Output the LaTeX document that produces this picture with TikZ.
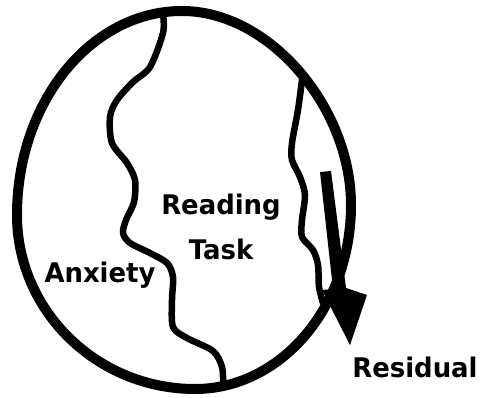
\documentclass[tikz,border=0pt]{standalone}
\usepackage{fontspec}
\setmainfont{DejaVu Sans}
\begin{document}
\begin{tikzpicture}[x=1pt,y=-1pt,
  lbl/.style={font=\bfseries\fontsize{27}{30}\selectfont, anchor=base, inner sep=0pt, xscale=0.96},
  rim/.style={line width=10pt},
  wave/.style={line width=6.5pt, line join=round, line cap=round}]
\useasboundingbox (0,0) rectangle (482,398);
\fill[white] (0,0) rectangle (482,398);
% outer oval ring
\coordinate (T) at (182,11);
\coordinate (R) at (351,205);
\coordinate (B) at (195,389);
\coordinate (L) at (17,215);
\draw[rim] (T) .. controls (270,11) and (351,108) .. (R)
  .. controls (351,307) and (281,389) .. (B)
  .. controls (97,389) and (17,311) .. (L)
  .. controls (17,102) and (91,11) .. (T) -- cycle;
% left wavy boundary
\draw[wave] plot[smooth, tension=0.5] coordinates {
  (163,14) (163,33) (150,67) (133,82) (117,100) (110,117) (112,143) (127,163)
  (135,180) (134,202) (126,220) (123,233) (130,243) (150,253) (167,263) (173,277)
  (172,300) (173,327) (187,338) (213,351) (222,367) (223,384)};
% right wavy boundary
\draw[wave] plot[smooth, tension=0.5] coordinates {
  (302,80) (298,110) (292,143) (292,160) (300,177) (305,195) (302,220) (302,237)
  (313,250) (318,265) (319,287) (323,303)};
% residual arrow
\fill (320,172) -- (331,171) -- (346,288) -- (367,295) -- (350,345) -- (322,290) -- (333,289) -- cycle;
% labels
\node[lbl] (reading) at (221,215) {Reading};
\node[lbl] (task) at (221,260) {Task};
\node[lbl] (anxiety) at (100,283) {Anxiety};
\node[lbl] (residual) at (415,377) {Residual};
\end{tikzpicture}
\end{document}
